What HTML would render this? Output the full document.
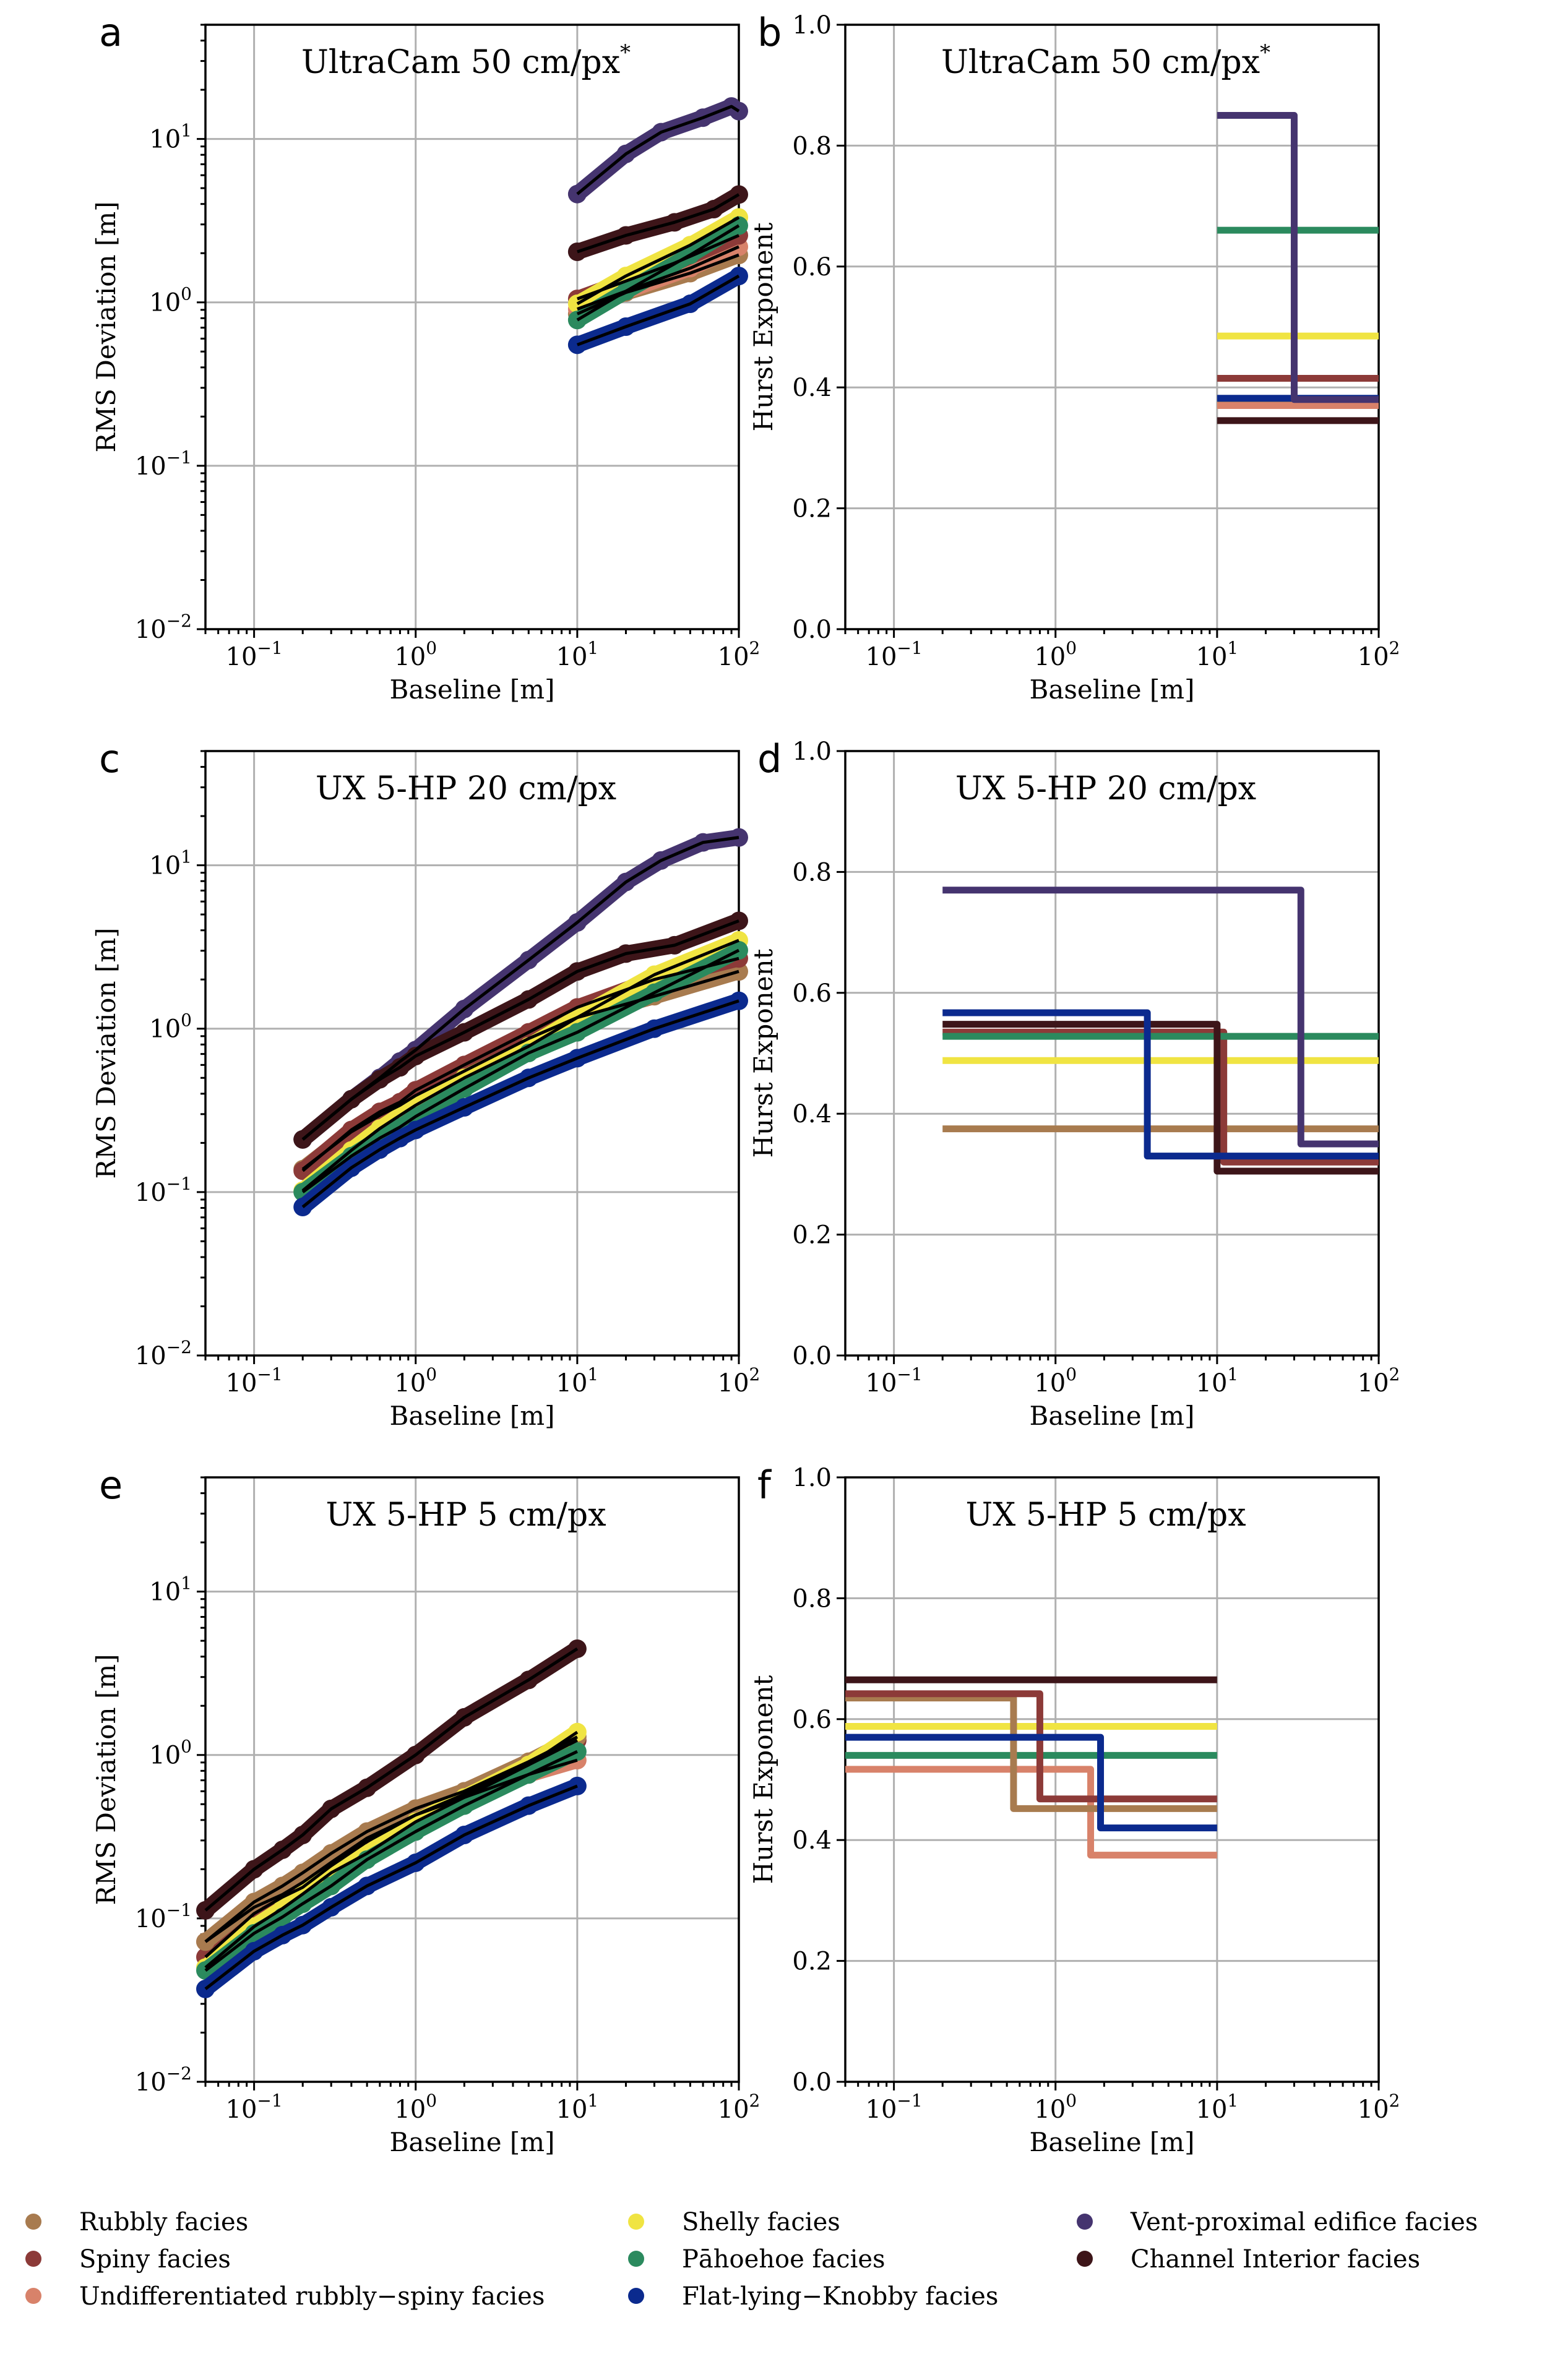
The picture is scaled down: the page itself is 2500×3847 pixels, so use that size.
<!DOCTYPE html>
<html><head><meta charset="utf-8">
<style>
html,body{margin:0;padding:0;background:#fff;}
svg{display:block;}
text{font-family:"DejaVu Serif","Liberation Serif",serif;fill:#000;}
.sans{font-family:"DejaVu Sans","Liberation Sans",sans-serif;}
</style></head>
<body>
<svg id="fig" width="2500" height="3847" viewBox="0 0 2500 3847" xmlns="http://www.w3.org/2000/svg"></svg>
<script>
// ---------- data: RMS deviation panels ----------
const a_vent_x=[10,20,33,60,90,100];           const a_vent_y=[4.6,8.1,11,13.5,15.8,14.8];
const a_channel_x=[10,20,40,70,100];           const a_channel_y=[2.04,2.57,3.09,3.72,4.57];
const a_spiny_x=[10,20,40,100];                const a_spiny_y=[1.05,1.35,1.74,2.57];
const a_rubbly_x=[10,20,50,100];               const a_rubbly_y=[0.85,1.15,1.51,1.95];
const a_undiff_x=[10,20,50,100];               const a_undiff_y=[0.91,1.17,1.62,2.19];
const a_shelly_x=[10,20,50,100];               const a_shelly_y=[0.98,1.45,2.24,3.31];
const a_pahoehoe_x=[10,20,50,100];             const a_pahoehoe_y=[0.78,1.17,1.95,2.95];
const a_flat_x=[10,20,50,100];                 const a_flat_y=[0.55,0.71,0.98,1.45];

const c_vent_x=[0.2,0.4,0.6,0.8,1,2,5,10,20,33,60,100];
const c_vent_y=[0.21,0.37,0.5,0.63,0.74,1.32,2.63,4.47,7.9,10.7,13.8,14.8];
const c_channel_x=[0.2,0.4,0.6,0.8,1,2,5,10,20,40,100];
const c_channel_y=[0.21,0.37,0.49,0.58,0.68,0.95,1.51,2.24,2.88,3.24,4.57];
const c_common_x=[0.2,0.4,0.6,0.8,1,2,5,10,30,100];
const c_spiny_y=[0.135,0.24,0.31,0.355,0.42,0.6,0.95,1.35,2.0,2.69];
const c_rubbly_y=[0.138,0.234,0.295,0.34,0.39,0.55,0.87,1.17,1.58,2.24];
const c_shelly_y=[0.102,0.18,0.245,0.295,0.34,0.5,0.78,1.17,2.14,3.47];
const c_pahoehoe_y=[0.1,0.166,0.214,0.25,0.29,0.43,0.71,0.95,1.66,3.02];
const c_flat_y=[0.081,0.141,0.182,0.214,0.24,0.33,0.5,0.66,1.0,1.48];

const e_x=[0.05,0.1,0.15,0.2,0.3,0.5,1,2,5,10];
const e_channel_y=[0.112,0.2,0.263,0.324,0.468,0.63,1.0,1.7,2.88,4.47];
const e_rubbly_y=[0.072,0.126,0.158,0.19,0.25,0.34,0.47,0.6,0.91,1.29];
const e_spiny_y=[0.058,0.107,0.135,0.155,0.21,0.295,0.43,0.575,0.87,1.23];
const e_undiff_y=[0.072,0.117,0.14,0.166,0.22,0.31,0.43,0.55,0.76,0.93];
const e_shelly_y=[0.05,0.089,0.115,0.141,0.19,0.25,0.39,0.55,0.87,1.38];
const e_pahoehoe_y=[0.048,0.081,0.102,0.123,0.158,0.229,0.34,0.49,0.76,1.05];
const e_flat_y=[0.037,0.063,0.079,0.091,0.117,0.158,0.219,0.324,0.49,0.646];

// ---------- data: Hurst exponent step panels (edges, values) ----------
const b_vent_e=[10,30,100];     const b_vent_h=[0.85,0.38];
const b_pahoehoe_e=[10,100];    const b_pahoehoe_h=[0.66];
const b_shelly_e=[10,100];      const b_shelly_h=[0.485];
const b_spiny_e=[10,100];       const b_spiny_h=[0.415];
const b_rubbly_e=[10,100];      const b_rubbly_h=[0.372];
const b_undiff_e=[10,100];      const b_undiff_h=[0.37];
const b_flat_e=[10,100];        const b_flat_h=[0.382];
const b_channel_e=[10,100];     const b_channel_h=[0.345];

const d_rubbly_e=[0.2,100];     const d_rubbly_h=[0.375];
const d_shelly_e=[0.2,100];     const d_shelly_h=[0.488];
const d_pahoehoe_e=[0.2,100];   const d_pahoehoe_h=[0.528];
const d_spiny_e=[0.2,11,100];   const d_spiny_h=[0.535,0.32];
const d_vent_e=[0.2,33,100];    const d_vent_h=[0.77,0.35];
const d_flat_e=[0.2,3.7,100];   const d_flat_h=[0.567,0.33];
const d_channel_e=[0.2,10,100]; const d_channel_h=[0.548,0.305];

const f_channel_e=[0.05,10];       const f_channel_h=[0.665];
const f_shelly_e=[0.05,10];        const f_shelly_h=[0.588];
const f_pahoehoe_e=[0.05,10];      const f_pahoehoe_h=[0.54];
const f_undiff_e=[0.05,1.65,10];   const f_undiff_h=[0.517,0.375];
const f_rubbly_e=[0.05,0.55,10];   const f_rubbly_h=[0.635,0.452];
const f_spiny_e=[0.05,0.8,10];     const f_spiny_h=[0.642,0.468];
const f_flat_e=[0.05,1.9,10];      const f_flat_h=[0.57,0.42];

const xTickVals=[0.1,1,10,100];
const xTickExp=["−1","0","1","2"];
const rmsTickVals=[0.01,0.1,1,10];
const rmsTickExp=["−2","−1","0","1"];
const hurstTickVals=[0,0.2,0.4,0.6,0.8,1.0];
const hurstTickLabels=["0.0","0.2","0.4","0.6","0.8","1.0"];

const COL={rubbly:"#a87b4f",spiny:"#8c3a38",undiff:"#d8826a",shelly:"#f0e442",pahoehoe:"#2b8a5e",flat:"#0b2a8e",vent:"#45346f",channel:"#3d1519"};

const NS="http://www.w3.org/2000/svg";
const svg=document.getElementById('fig');
function mk(tag,attrs,parent){const e=document.createElementNS(NS,tag);for(const k in attrs)e.setAttribute(k,attrs[k]);(parent||svg).appendChild(e);return e;}

const L1=332,R1=1194,L2=1366,R2=2228,H=977;
const rowTops=[40,1214,2388];
const XMIN=Math.log10(0.05),XMAX=2;

function makeAxes(left,top,ylog,title,letter,ylabel,name){
  const g=mk('g',{});
  
  
  const W=(left===L1?R1-L1:R2-L2);
  const sx=v=>left+(Math.log10(v)-XMIN)/(XMAX-XMIN)*W;
  let sy;
  if(ylog){const y0=-2,y1=Math.log10(50);sy=v=>top+H-(Math.log10(v)-y0)/(y1-y0)*H;}
  else{sy=v=>top+H-v*H;}
  xTickVals.forEach(v=>{const l=mk('line',{x1:sx(v),x2:sx(v),y1:top,y2:top+H,stroke:'#b0b0b0','stroke-width':3},g);});
  const yt=ylog?rmsTickVals:hurstTickVals;
  yt.forEach(v=>{const l=mk('line',{x1:left,x2:left+W,y1:sy(v),y2:sy(v),stroke:'#b0b0b0','stroke-width':3},g);});
  for(let d=-2;d<=1;d++)for(let m=1;m<=9;m++){const v=m*Math.pow(10,d);if(v<0.05-1e-9||v>100+1e-9)continue;const x=sx(v);mk('line',{x1:x,x2:x,y1:top+H,y2:top+H+(m===1?14:8),stroke:'#000','stroke-width':3},g);}
  mk('line',{x1:sx(100),x2:sx(100),y1:top+H,y2:top+H+14,stroke:'#000','stroke-width':3},g);
  xTickVals.forEach((v,i)=>{const t=mk('text',{x:sx(v),y:top+H+58,'font-size':40,'text-anchor':'middle'},g);t.appendChild(document.createTextNode('10'));const s=mk('tspan',{'font-size':28,dy:-18},t);s.textContent=xTickExp[i];});
  if(ylog){
    for(let d=-2;d<=1;d++)for(let m=1;m<=9;m++){const v=m*Math.pow(10,d);if(v>50)continue;mk('line',{x1:left,x2:left-(m===1?14:8),y1:sy(v),y2:sy(v),stroke:'#000','stroke-width':3},g);}
    rmsTickVals.forEach((v,i)=>{const t=mk('text',{x:left-22,y:sy(v)+14,'font-size':40,'text-anchor':'end'},g);t.appendChild(document.createTextNode('10'));const s=mk('tspan',{'font-size':28,dy:-18},t);s.textContent=rmsTickExp[i];});
  } else {
    hurstTickVals.forEach((v,i)=>{mk('line',{x1:left,x2:left-14,y1:sy(v),y2:sy(v),stroke:'#000','stroke-width':3},g);const t=mk('text',{x:left-22,y:sy(v)+14,'font-size':40,'text-anchor':'end'},g);t.textContent=hurstTickLabels[i];});
  }
  const fr=mk('rect',{x:left,y:top,width:W,height:H,fill:'none',stroke:'#000','stroke-width':3.5},g);
  
  const xl=mk('text',{x:left+W/2,y:top+H+112,'font-size':42,'text-anchor':'middle'},g);
  xl.textContent='Baseline [m]';
  const ylx=left-(ylog?146:118);
  const yl=mk('text',{x:ylx,y:top+H/2,'font-size':42,'text-anchor':'middle',transform:`rotate(-90 ${ylx} ${top+H/2})`},g);
  yl.textContent=ylabel;
  const tt=mk('text',{x:left+W/2-10,y:top+78,'font-size':52,'text-anchor':'middle'},g);
  
  tt.appendChild(document.createTextNode(title.t));
  if(title.star){const s=mk('tspan',{'font-size':34,dy:-22},tt);s.textContent='*';}
  const lt=mk('text',{x:left-(ylog?172:142),y:top+34,'font-size':62,class:'sans'},g);
  lt.textContent=letter;
  return {sx,sy,g};
}

function rmsSeries(ax,xs,ys,color,name){
  const g=mk('g',{},ax.g);
  
  
  const pts=xs.map((x,i)=>ax.sx(x).toFixed(1)+','+ax.sy(ys[i]).toFixed(1)).join(' ');
  mk('polyline',{points:pts,fill:'none',stroke:color,'stroke-width':26,'stroke-linecap':'round','stroke-linejoin':'round'},g);
  xs.forEach((x,i)=>{const c=mk('circle',{cx:ax.sx(x),cy:ax.sy(ys[i]),r:15,fill:color},g);});
  return pts;
}
function fitLine(ax,pts,name){
  const p=mk('polyline',{points:pts,fill:'none',stroke:'#000','stroke-width':5,'stroke-linejoin':'round'},ax.g);
  
}
function stepSeries(ax,edges,hs,color,name){
  let d=`M${ax.sx(edges[0])},${ax.sy(hs[0])}`;
  for(let i=0;i<hs.length;i++){
    if(i>0)d+=` V${ax.sy(hs[i])}`;
    d+=` H${ax.sx(edges[i+1])}`;
  }
  const p=mk('path',{d,fill:'none',stroke:color,'stroke-width':11,'stroke-linejoin':'round'},ax.g);
  
}

const axA=makeAxes(L1,rowTops[0],true,{t:'UltraCam 50 cm/px',star:true},'a','RMS Deviation [m]','panel-a-rms-ultracam');
const fa=[];
fa.push(rmsSeries(axA,a_rubbly_x,a_rubbly_y,COL.rubbly,'series-rubbly'));
fa.push(rmsSeries(axA,a_undiff_x,a_undiff_y,COL.undiff,'series-undifferentiated'));
fa.push(rmsSeries(axA,a_spiny_x,a_spiny_y,COL.spiny,'series-spiny'));
fa.push(rmsSeries(axA,a_shelly_x,a_shelly_y,COL.shelly,'series-shelly'));
fa.push(rmsSeries(axA,a_pahoehoe_x,a_pahoehoe_y,COL.pahoehoe,'series-pahoehoe'));
fa.push(rmsSeries(axA,a_flat_x,a_flat_y,COL.flat,'series-flat-lying-knobby'));
fa.push(rmsSeries(axA,a_vent_x,a_vent_y,COL.vent,'series-vent-proximal'));
fa.push(rmsSeries(axA,a_channel_x,a_channel_y,COL.channel,'series-channel-interior'));
fa.forEach(p=>fitLine(axA,p,'fit-line'));

const axB=makeAxes(L2,rowTops[0],false,{t:'UltraCam 50 cm/px',star:true},'b','Hurst Exponent','panel-b-hurst-ultracam');
stepSeries(axB,b_rubbly_e,b_rubbly_h,COL.rubbly,'hurst-rubbly');
stepSeries(axB,b_undiff_e,b_undiff_h,COL.undiff,'hurst-undifferentiated');
stepSeries(axB,b_spiny_e,b_spiny_h,COL.spiny,'hurst-spiny');
stepSeries(axB,b_shelly_e,b_shelly_h,COL.shelly,'hurst-shelly');
stepSeries(axB,b_pahoehoe_e,b_pahoehoe_h,COL.pahoehoe,'hurst-pahoehoe');
stepSeries(axB,b_channel_e,b_channel_h,COL.channel,'hurst-channel-interior');
stepSeries(axB,b_flat_e,b_flat_h,COL.flat,'hurst-flat-lying-knobby');
stepSeries(axB,b_vent_e,b_vent_h,COL.vent,'hurst-vent-proximal');

const axC=makeAxes(L1,rowTops[1],true,{t:'UX 5-HP 20 cm/px'},'c','RMS Deviation [m]','panel-c-rms-20cm');
const fc=[];
fc.push(rmsSeries(axC,c_common_x,c_rubbly_y,COL.rubbly,'series-rubbly'));
fc.push(rmsSeries(axC,c_common_x,c_spiny_y,COL.spiny,'series-spiny'));
fc.push(rmsSeries(axC,c_common_x,c_shelly_y,COL.shelly,'series-shelly'));
fc.push(rmsSeries(axC,c_common_x,c_pahoehoe_y,COL.pahoehoe,'series-pahoehoe'));
fc.push(rmsSeries(axC,c_common_x,c_flat_y,COL.flat,'series-flat-lying-knobby'));
fc.push(rmsSeries(axC,c_vent_x,c_vent_y,COL.vent,'series-vent-proximal'));
fc.push(rmsSeries(axC,c_channel_x,c_channel_y,COL.channel,'series-channel-interior'));
fc.forEach(p=>fitLine(axC,p,'fit-line'));

const axD=makeAxes(L2,rowTops[1],false,{t:'UX 5-HP 20 cm/px'},'d','Hurst Exponent','panel-d-hurst-20cm');
stepSeries(axD,d_rubbly_e,d_rubbly_h,COL.rubbly,'hurst-rubbly');
stepSeries(axD,d_shelly_e,d_shelly_h,COL.shelly,'hurst-shelly');
stepSeries(axD,d_spiny_e,d_spiny_h,COL.spiny,'hurst-spiny');
stepSeries(axD,d_pahoehoe_e,d_pahoehoe_h,COL.pahoehoe,'hurst-pahoehoe');
stepSeries(axD,d_vent_e,d_vent_h,COL.vent,'hurst-vent-proximal');
stepSeries(axD,d_channel_e,d_channel_h,COL.channel,'hurst-channel-interior');
stepSeries(axD,d_flat_e,d_flat_h,COL.flat,'hurst-flat-lying-knobby');

const axE=makeAxes(L1,rowTops[2],true,{t:'UX 5-HP 5 cm/px'},'e','RMS Deviation [m]','panel-e-rms-5cm');
const fe=[];
fe.push(rmsSeries(axE,e_x,e_undiff_y,COL.undiff,'series-undifferentiated'));
fe.push(rmsSeries(axE,e_x,e_spiny_y,COL.spiny,'series-spiny'));
fe.push(rmsSeries(axE,e_x,e_rubbly_y,COL.rubbly,'series-rubbly'));
fe.push(rmsSeries(axE,e_x,e_shelly_y,COL.shelly,'series-shelly'));
fe.push(rmsSeries(axE,e_x,e_pahoehoe_y,COL.pahoehoe,'series-pahoehoe'));
fe.push(rmsSeries(axE,e_x,e_flat_y,COL.flat,'series-flat-lying-knobby'));
fe.push(rmsSeries(axE,e_x,e_channel_y,COL.channel,'series-channel-interior'));
fe.forEach(p=>fitLine(axE,p,'fit-line'));

const axF=makeAxes(L2,rowTops[2],false,{t:'UX 5-HP 5 cm/px'},'f','Hurst Exponent','panel-f-hurst-5cm');
stepSeries(axF,f_pahoehoe_e,f_pahoehoe_h,COL.pahoehoe,'hurst-pahoehoe');
stepSeries(axF,f_shelly_e,f_shelly_h,COL.shelly,'hurst-shelly');
stepSeries(axF,f_undiff_e,f_undiff_h,COL.undiff,'hurst-undifferentiated');
stepSeries(axF,f_rubbly_e,f_rubbly_h,COL.rubbly,'hurst-rubbly');
stepSeries(axF,f_spiny_e,f_spiny_h,COL.spiny,'hurst-spiny');
stepSeries(axF,f_flat_e,f_flat_h,COL.flat,'hurst-flat-lying-knobby');
stepSeries(axF,f_channel_e,f_channel_h,COL.channel,'hurst-channel-interior');

const legNames=["Rubbly  facies","Spiny  facies","Undifferentiated  rubbly\u2212spiny facies","Shelly facies","P\u0101hoehoe facies","Flat-lying\u2212Knobby facies","Vent-proximal  edifice facies","Channel Interior facies"];
const legKeys=["rubbly","spiny","undiff","shelly","pahoehoe","flat","vent","channel"];
const legG=mk('g',{});


const colX=[54,1028,1753],rowY=[3591,3651,3711];
const slots=[[0,0],[0,1],[0,2],[1,0],[1,1],[1,2],[2,0],[2,1]];
legNames.forEach((n,i)=>{
  const [c,r]=slots[i];
  const e=mk('g',{},legG);
  
  
  mk('circle',{cx:colX[c],cy:rowY[r],r:13,fill:COL[legKeys[i]]},e);
  const t=mk('text',{x:colX[c]+74,y:rowY[r]+14,'font-size':40,'xml:space':'preserve'},e);
  t.textContent=n;
});
</script>
</body></html>
